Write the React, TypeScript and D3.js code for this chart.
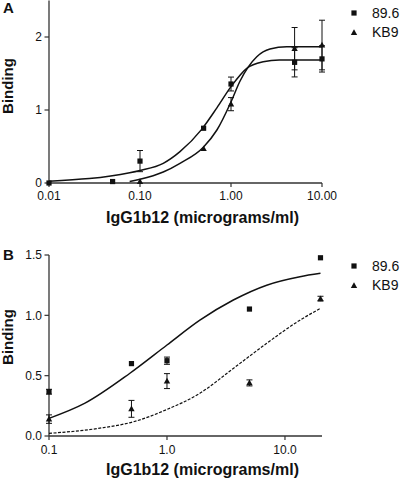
import React from "react";
import * as d3 from "d3";

// ---------- Panel A data ----------
const aTicksX = [0.01, 0.1, 1, 10];
const aTicksY = [0, 1, 2];
const aConc896 = [0.01, 0.05, 0.1, 0.5, 1, 5, 10];
const aBind896 = [0, 0.02, 0.3, 0.75, 1.356, 1.653, 1.7];
const aErr896 = [0, 0, 0.145, 0, 0.095, 0.2, 0.18];
const aConcKB9 = [0.1, 0.5, 1, 5, 10];
const aBindKB9 = [0.02, 0.47, 1.08, 1.84, 1.89];
const aErrKB9 = [0, 0, 0.09, 0.29, 0.34];
const aFitX896 = [0.01, 0.077, 0.1, 0.18, 0.275, 0.476, 0.7, 1.0, 1.49, 2.26, 3.4, 5, 10];
const aFitY896 = [0.025, 0.14, 0.172, 0.27, 0.43, 0.735, 1.03, 1.32, 1.57, 1.66, 1.685, 1.685, 1.685];
const aFitXKB9 = [0.077, 0.1, 0.18, 0.275, 0.497, 0.7, 1.0, 1.25, 1.55, 1.92, 2.68, 4.1, 10];
const aFitYKB9 = [0.02, 0.05, 0.15, 0.27, 0.49, 0.726, 1.11, 1.39, 1.59, 1.73, 1.836, 1.867, 1.867];

// ---------- Panel B data ----------
const bTicksX = [0.1, 1, 10];
const bTicksY = [0, 0.5, 1.0, 1.5];
const bConc = [0.1, 0.5, 1, 5, 20];
const bBind896 = [0.367, 0.6, 0.624, 1.052, 1.477];
const bErr896 = [0.02, 0, 0.03, 0, 0];
const bBindKB9 = [0.14, 0.225, 0.455, 0.44, 1.138];
const bErrKB9 = [0.035, 0.07, 0.062, 0.025, 0.02];
const bFitX896 = [0.1, 0.2, 0.485, 1.0, 1.9, 3.65, 7.0, 13.4, 20];
const bFitY896 = [0.146, 0.27, 0.52, 0.754, 0.96, 1.127, 1.25, 1.32, 1.348];
const bFitXKB9 = [0.1, 0.27, 0.52, 1.0, 1.9, 3.65, 7.0, 13.4, 20];
const bFitYKB9 = [0.022, 0.065, 0.118, 0.22, 0.354, 0.56, 0.768, 0.96, 1.058];

const seriesNames = ["89.6", "KB9"];

const FONT = "'Liberation Sans', Arial, Helvetica, sans-serif";
const INK = "#111";

type PanelProps = {
  label: string;
  top: number;
  bottom: number;
  left: number;
  right: number;
  xDomain: [number, number];
  yDomain: [number, number];
  xTicks: number[];
  yTicks: number[];
  xFmt: string;
  yFmt: string;
  conc896: number[];
  bind896: number[];
  err896: number[];
  concKB9: number[];
  bindKB9: number[];
  errKB9: number[];
  fitX896: number[];
  fitY896: number[];
  fitXKB9: number[];
  fitYKB9: number[];
  dashedKB9: boolean;
  labelY: number;
  bindingY: number;
  tickLabelY: number;
  titleY: number;
  legendY: number;
};

function Square({ x, y }: { x: number; y: number }) {
  return <rect x={x - 2.6} y={y - 2.6} width={5.2} height={5.2} fill={INK} />;
}
function Tri({ x, y }: { x: number; y: number }) {
  return <path d={`M${x},${y - 3.3} L${x + 3.2},${y + 2.4} L${x - 3.2},${y + 2.4} Z`} fill={INK} />;
}

function Panel(p: PanelProps) {
  const x = d3.scaleLog().domain(p.xDomain).range([p.left, p.right]);
  const y = d3.scaleLinear().domain(p.yDomain).range([p.bottom, p.top]);
  const line = d3
    .line<[number, number]>()
    .x((d) => x(d[0]))
    .y((d) => y(d[1]))
    .curve(d3.curveMonotoneX);
  const fit896 = line(p.fitX896.map((v, i) => [v, p.fitY896[i]] as [number, number])) || "";
  const fitKB9 = line(p.fitXKB9.map((v, i) => [v, p.fitYKB9[i]] as [number, number])) || "";
  const xf = d3.format(p.xFmt);
  const yf = d3.format(p.yFmt);

  const errBar = (cx: number, v: number, e: number, key: string) => {
    if (!e) return null;
    const y1 = y(v - e);
    const y2 = y(v + e);
    return (
      <g key={key} stroke={INK} strokeWidth={1}>
        <line x1={cx} x2={cx} y1={y1} y2={y2} />
        <line x1={cx - 3} x2={cx + 3} y1={y1} y2={y1} />
        <line x1={cx - 3} x2={cx + 3} y1={y2} y2={y2} />
      </g>
    );
  };

  return (
    <g>
      <text x={3} y={p.labelY} fontFamily={FONT} fontWeight="bold" fontSize={15} fill={INK}>
        {p.label}
      </text>
      {/* axes */}
      <line x1={p.left} x2={p.left} y1={p.top} y2={p.bottom} stroke="#333" strokeWidth={1.3} />
      <line x1={p.left} x2={p.right} y1={p.bottom} y2={p.bottom} stroke="#333" strokeWidth={1.3} />
      {p.yTicks.map((t) => (
        <g key={"yt" + t}>
          <line x1={p.left - 4.5} x2={p.left} y1={y(t)} y2={y(t)} stroke="#333" strokeWidth={1.2} />
          <text
            x={p.left - 7}
            y={y(t)}
            dy="0.35em"
            textAnchor="end"
            fontFamily={FONT}
            fontSize={12}
            fill={INK}
          >
            {yf(t)}
          </text>
        </g>
      ))}
      {p.xTicks.map((t) => (
        <g key={"xt" + t}>
          <line x1={x(t)} x2={x(t)} y1={p.bottom} y2={p.bottom + 4} stroke="#333" strokeWidth={1.2} />
          <text
            x={x(t)}
            y={p.tickLabelY}
            dy="0.35em"
            textAnchor="middle"
            fontFamily={FONT}
            fontSize={12}
            fill={INK}
          >
            {xf(t)}
          </text>
        </g>
      ))}
      <text
        x={(p.left + p.right) / 2 + 17}
        y={p.titleY}
        dy="0.35em"
        textAnchor="middle"
        fontFamily={FONT}
        fontWeight="bold"
        fontSize={16}
        fill={INK}
      >
        IgG1b12 (micrograms/ml)
      </text>
      <text
        transform={`translate(8,${p.bindingY}) rotate(-90)`}
        dy="0.35em"
        textAnchor="middle"
        fontFamily={FONT}
        fontWeight="bold"
        fontSize={15}
        fill={INK}
      >
        Binding
      </text>
      {/* fits */}
      <path d={fit896} fill="none" stroke={INK} strokeWidth={1.5} />
      <path
        d={fitKB9}
        fill="none"
        stroke={INK}
        strokeWidth={p.dashedKB9 ? 1.2 : 1.5}
        strokeDasharray={p.dashedKB9 ? "3,1.5" : undefined}
      />
      {/* error bars */}
      {p.conc896.map((c, i) => errBar(x(c), p.bind896[i], p.err896[i], "e8" + i))}
      {p.concKB9.map((c, i) => errBar(x(c), p.bindKB9[i], p.errKB9[i], "ek" + i))}
      {/* markers */}
      {p.conc896.map((c, i) => (
        <Square key={"s" + i} x={x(c)} y={y(p.bind896[i])} />
      ))}
      {p.concKB9.map((c, i) => (
        <Tri key={"t" + i} x={x(c)} y={y(p.bindKB9[i])} />
      ))}
      {/* legend */}
      <Square x={354} y={p.legendY} />
      <text x={372} y={p.legendY} dy="0.35em" fontFamily={FONT} fontSize={14} fill={INK}>
        {seriesNames[0]}
      </text>
      <Tri x={354} y={p.legendY + 19.5} />
      <text x={372} y={p.legendY + 19.5} dy="0.35em" fontFamily={FONT} fontSize={14} fill={INK}>
        {seriesNames[1]}
      </text>
    </g>
  );
}

export default function App() {
  return (
    <svg
      width={400}
      height={480}
      style={{ position: "absolute", left: 0, top: 0, background: "#fff" }}
    >
      <rect width={400} height={480} fill="#fff" />
      <Panel
        label="A"
        top={0.5}
        bottom={183}
        left={49}
        right={322}
        xDomain={[0.01, 10]}
        yDomain={[0, 2.5]}
        xTicks={aTicksX}
        yTicks={aTicksY}
        xFmt=".2f"
        yFmt=".0f"
        conc896={aConc896}
        bind896={aBind896}
        err896={aErr896}
        concKB9={aConcKB9}
        bindKB9={aBindKB9}
        errKB9={aErrKB9}
        fitX896={aFitX896}
        fitY896={aFitY896}
        fitXKB9={aFitXKB9}
        fitYKB9={aFitYKB9}
        dashedKB9={false}
        labelY={13}
        bindingY={86}
        tickLabelY={196}
        titleY={217}
        legendY={13}
      />
      <Panel
        label="B"
        top={255}
        bottom={436}
        left={49}
        right={322}
        xDomain={[0.1, 20.6]}
        yDomain={[0, 1.5]}
        xTicks={bTicksX}
        yTicks={bTicksY}
        xFmt=".1f"
        yFmt=".1f"
        conc896={bConc}
        bind896={bBind896}
        err896={bErr896}
        concKB9={bConc}
        bindKB9={bBindKB9}
        errKB9={bErrKB9}
        fitX896={bFitX896}
        fitY896={bFitY896}
        fitXKB9={bFitXKB9}
        fitYKB9={bFitYKB9}
        dashedKB9={true}
        labelY={260}
        bindingY={337}
        tickLabelY={450}
        titleY={469}
        legendY={266}
      />
    </svg>
  );
}
